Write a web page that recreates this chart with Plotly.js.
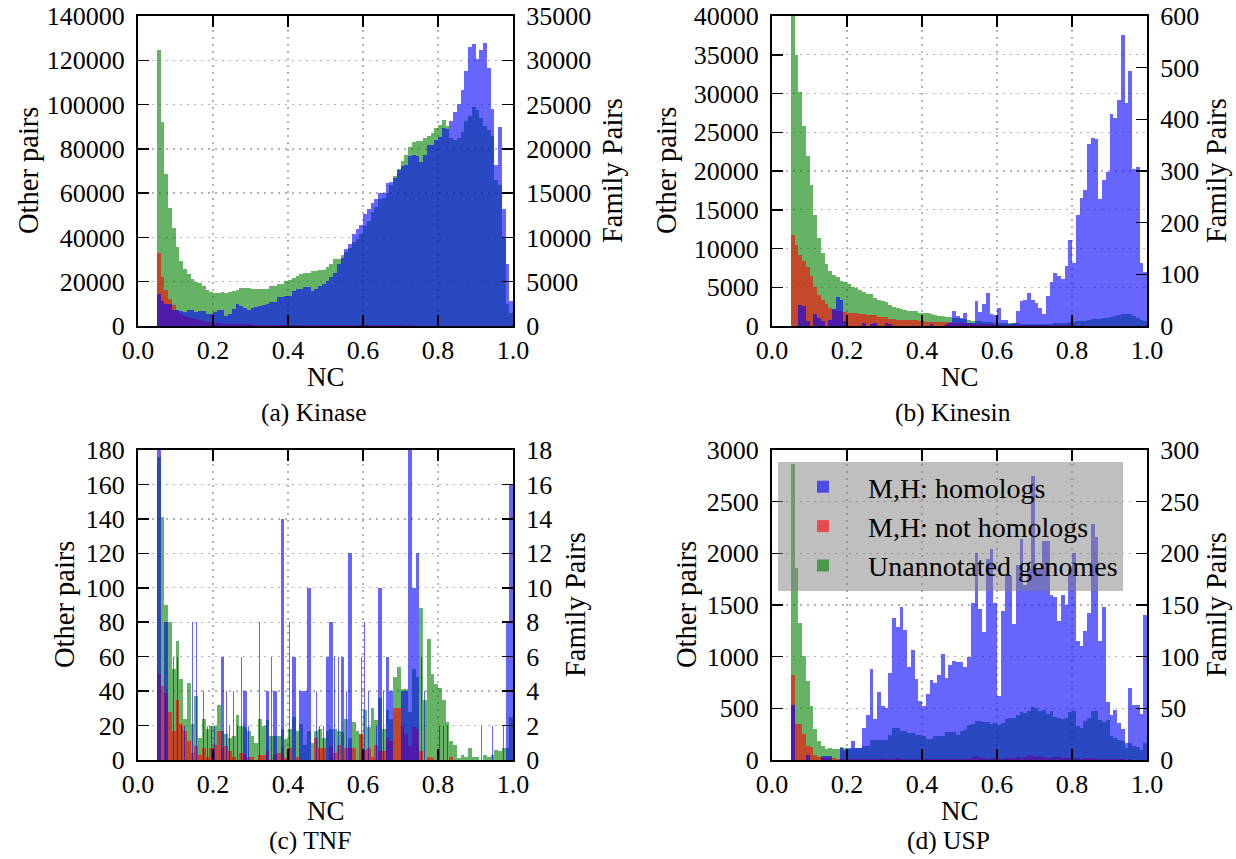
<!DOCTYPE html>
<html>
<head>
<meta charset="utf-8">
<script src="https://cdn.plot.ly/plotly-3.0.1.min.js"></script>
<style>
  html, body { margin: 0; padding: 0; background: #ffffff; }
  #chart { width: 1236px; height: 859px; }
</style>
</head>
<body>
<div id="chart"></div>
<script>
// NC histogram binning: 95 bins of width 0.01 covering 0.05 .. 1.00
const NC_FIRST_BIN_CENTER = 0.055;
const NC_BIN_WIDTH = 0.01;

// ---------- (a) Kinase ----------
const kinaseUnannotated = [124650, 92250, 68550, 53400, 44400, 35850, 29400, 25650, 23400, 21450,
  19950, 19350, 17850, 16200, 15150, 14850, 14850, 15150, 14850, 15450,
  15900, 16350, 16950, 17100, 16950, 16800, 16650, 16650, 16800, 16650,
  17850, 17850, 18750, 18750, 20400, 20850, 21900, 22650, 23700, 24150,
  24150, 24900, 24900, 25200, 25350, 26700, 27900, 30150, 30450, 31950,
  33450, 35400, 37950, 39450, 41700, 45150, 47250, 51450, 53700, 57150,
  57750, 60150, 63900, 67650, 70950, 74700, 77400, 80850, 83250, 83700,
  83700, 84900, 85950, 87150, 89400, 90900, 93150, 90150, 84900, 84150,
  84900, 87450, 92700, 94950, 98850, 97650, 93900, 90150, 88650, 85650,
  65850, 63600, 39900, 9900, 5850];
const kinaseNotHomologs = [33000, 22200, 16200, 12000, 9300, 7000, 5600, 4700, 4000, 3400,
  3200, 2500, 2200, 1900, 1600, 1400, 1350, 1100, 950, 900,
  820, 780, 760, 690, 700, 640, 620, 610, 560, 580,
  540, 530, 490, 500, 470, 450, 460, 430, 420, 435,
  400, 410, 380, 370, 385, 350, 360, 330, 345, 310,
  320, 300, 290, 305, 280, 290, 270, 285, 260, 270,
  250, 265, 240, 250, 230, 245, 220, 230, 215, 220,
  200, 210, 190, 205, 180, 190, 175, 180, 160, 170,
  150, 165, 140, 150, 130, 145, 120, 125, 110, 115,
  100, 90, 70, 40, 20];
const kinaseHomologs = [3580, 2810, 2540, 2540, 1800, 1770, 1650, 1620, 1770, 1770,
  1540, 1730, 1730, 1390, 1310, 1540, 1770, 1850, 1160, 1400,
  1960, 2430, 2230, 2040, 1850, 2000, 2160, 2310, 2400, 2440,
  2660, 2740, 3225, 3300, 3410, 3410, 3900, 4160, 4200, 4425,
  4460, 3975, 4160, 4540, 4725, 5100, 5550, 6040, 6975, 7725,
  8740, 9225, 10350, 10900, 11400, 12700, 13240, 13900, 14360, 15040,
  15040, 16090, 16300, 16725, 17660, 18040, 18225, 19160, 19300, 19160,
  18490, 19350, 20475, 20475, 21040, 21340, 22310, 22240, 23175, 24190,
  25050, 26660, 28800, 31540, 31840, 30110, 31160, 31910, 29100, 24525,
  18225, 22460, 13240, 6975, 2775];

// ---------- (b) Kinesin ----------
const kinesinUnannotated = [40500, 35010, 30170, 25770, 21960, 18230, 14340, 11340, 9420, 8000,
  7150, 6630, 6330, 5780, 5650, 5480, 5050, 4920, 4620, 4410,
  4150, 4070, 3550, 3300, 3170, 3080, 2700, 2440, 2270, 2140,
  2010, 2000, 1990, 1880, 1710, 1630, 1620, 1500, 1370, 1280,
  1330, 1200, 1180, 1070, 1060, 950, 880, 760, 700, 640,
  610, 560, 520, 490, 450, 430, 410, 380, 360, 350,
  330, 320, 310, 300, 290, 280, 290, 270, 300, 320,
  340, 380, 400, 430, 480, 540, 600, 640, 690, 780,
  870, 940, 930, 1010, 1060, 1200, 1310, 1440, 1560, 1490,
  1520, 1290, 1080, 820, 600];
const kinesinNotHomologs = [11770, 10490, 9200, 8350, 7580, 6420, 5010, 3940, 3420, 2780,
  2350, 2010, 2000, 1930, 1800, 1710, 1720, 1690, 1500, 1510,
  1480, 1370, 1380, 1200, 1210, 1180, 940, 860, 740, 730,
  720, 740, 730, 720, 700, 710, 520, 510, 530, 500,
  520, 490, 500, 430, 420, 440, 410, 400, 260, 240,
  250, 220, 210, 200, 190, 185, 170, 160, 165, 150,
  140, 150, 130, 120, 130, 110, 100, 110, 100, 90,
  95, 80, 90, 70, 80, 70, 60, 70, 60, 50,
  60, 50, 40, 50, 40, 50, 40, 30, 40, 30,
  30, 20, 30, 20, 10];
const kinesinHomologs = [0, 0, 40, 38, 10, 0, 24, 15, 10, 0,
  11, 32, 56, 51, 10, 0, 0, 0, 0, 6,
  0, 3, 6, 0, 0, 6, 3, 0, 0, 0,
  0, 0, 0, 0, 0, 0, 0, 3, 0, 0,
  0, 3, 6, 29, 20, 16, 26, 6, 6, 48,
  28, 42, 64, 24, 22, 35, 11, 11, 3, 6,
  30, 48, 51, 63, 51, 44, 35, 24, 58, 86,
  103, 96, 91, 116, 167, 121, 215, 247, 263, 352,
  363, 361, 246, 282, 298, 411, 403, 437, 564, 432,
  494, 303, 307, 121, 105];

// ---------- (c) TNF ----------
const tnfUnannotated = [176, 141, 90, 80, 53, 69, 47, 24, 45, 21,
  37, 13, 24, 18, 20, 20, 32, 17, 15, 13,
  14, 26, 20, 19, 17, 14, 10, 24, 20, 23,
  14, 14, 14, 18, 12, 18, 25, 17, 21, 9,
  17, 10, 17, 18, 13, 17, 18, 18, 17, 16,
  24, 13, 22, 17, 15, 29, 19, 30, 23, 36,
  18, 29, 24, 48, 54, 41, 41, 28, 53, 48,
  88, 35, 70, 50, 44, 42, 35, 22, 11, 9,
  1, 3, 2, 7, 2, 2, 0, 3, 2, 3,
  6, 5, 7, 7, 25];
const tnfNotHomologs = [50, 43, 39, 28, 17, 35, 21, 17, 11, 4,
  8, 3, 7, 2, 7, 9, 17, 7, 8, 5,
  2, 0, 4, 3, 2, 2, 0, 3, 3, 5,
  0, 3, 4, 8, 1, 7, 0, 2, 0, 0,
  0, 0, 13, 7, 7, 0, 8, 4, 9, 0,
  7, 7, 7, 0, 15, 6, 7, 2, 9, 5,
  5, 13, 11, 30, 30, 20, 15, 8, 19, 18,
  5, 0, 2, 1, 0, 0, 0, 0, 2, 0,
  0, 0, 0, 0, 0, 0, 0, 0, 0, 0,
  0, 0, 0, 0, 0];
// homolog counts drawn as full-width bars
const tnfHomologsWide = [18, 0, 8, 0, 0, 0, 0, 0, 0, 0,
  0, 0, 0, 0, 0, 0, 0, 6, 0, 0,
  0, 0, 0, 4, 0, 0, 0, 0, 0, 4,
  0, 4, 0, 14, 0, 0, 6, 0, 4, 4,
  10, 0, 0, 0, 0, 6, 8, 0, 0, 6,
  0, 12, 0, 0, 0, 0, 0, 0, 0, 10,
  0, 6, 4, 0, 0, 4, 4, 18, 10, 12,
  0, 0, 0, 0, 0, 0, 0, 0, 0, 0,
  0, 0, 0, 0, 0, 0, 0, 0, 0, 0,
  0, 0, 0, 8, 16];
// homolog counts that appear as hairline spikes
const tnfHomologsThin = [0, 0, 0, 0, 6, 6, 2, 2, 0, 8,
  8, 0, 4, 2, 2, 2, 0, 0, 4, 2,
  4, 2, 6, 0, 2, 0, 0, 8, 0, 0,
  6, 0, 0, 0, 0, 8, 0, 0, 0, 0,
  0, 0, 4, 2, 2, 0, 0, 6, 6, 0,
  4, 0, 0, 0, 6, 8, 4, 0, 2, 0,
  4, 0, 0, 0, 0, 0, 0, 0, 0, 0,
  6, 4, 0, 0, 0, 2, 2, 2, 0, 0,
  0, 0, 0, 0, 0, 0, 2, 0, 0, 2,
  0, 0, 2, 0, 0];

// ---------- (d) USP ----------
const uspUnannotated = [2860, 1855, 1323, 1011, 766, 518, 303, 180, 138, 109,
  112, 108, 110, 122, 118, 110, 114, 116, 115, 132,
  135, 193, 190, 195, 192, 190, 245, 309, 305, 283,
  285, 258, 260, 238, 240, 236, 200, 202, 232, 230,
  235, 270, 268, 272, 245, 280, 290, 335, 350, 375,
  380, 370, 365, 350, 355, 340, 360, 395, 410, 405,
  440, 460, 455, 470, 510, 505, 470, 480, 450, 470,
  420, 405, 395, 410, 460, 470, 330, 310, 380, 410,
  470, 470, 390, 370, 390, 230, 210, 190, 180, 120,
  160, 140, 130, 100, 160];
const uspNotHomologs = [818, 350, 345, 250, 132, 128, 50, 30, 25, 20,
  15, 18, 12, 10, 12, 8, 10, 8, 6, 8,
  10, 12, 8, 10, 15, 12, 10, 14, 18, 12,
  10, 8, 12, 10, 8, 10, 12, 10, 8, 10,
  12, 14, 10, 12, 8, 10, 14, 12, 30, 35,
  20, 15, 12, 18, 20, 15, 12, 18, 20, 15,
  25, 22, 30, 45, 40, 28, 35, 25, 20, 22,
  30, 25, 18, 20, 15, 22, 18, 12, 15, 20,
  18, 12, 10, 8, 12, 8, 6, 5, 6, 4,
  5, 3, 4, 2, 3];
const uspHomologs = [53, 0, 0, 0, 5, 0, 0, 0, 4, 4,
  4, 0, 0, 12, 10, 12, 18, 12, 12, 31,
  44, 88, 40, 66, 52, 50, 84, 137, 129, 148,
  126, 90, 106, 78, 57, 52, 64, 77, 75, 82,
  103, 79, 92, 96, 95, 95, 90, 100, 152, 200,
  146, 124, 195, 204, 152, 62, 144, 179, 178, 132,
  189, 214, 169, 185, 275, 185, 185, 212, 212, 160,
  158, 135, 160, 150, 185, 200, 115, 110, 125, 142,
  228, 216, 115, 148, 56, 44, 48, 36, 30, 16,
  70, 53, 53, 45, 140];

// ---------- labels ----------
const seriesNames = ['M,H: homologs', 'M,H: not homologs', 'Unannotated genomes'];
const panelCaptions = ['(a) Kinase', '(b) Kinesin', '(c) TNF', '(d) USP'];
const xTitle = 'NC';
const leftTitle = 'Other pairs';
const rightTitle = 'Family Pairs';

// ---------- style ----------
const FONT = '"Liberation Serif", "Times New Roman", serif';
const BLUE = 'rgba(0,0,255,0.6)';
const RED = 'rgba(255,0,0,0.6)';
const GREEN = 'rgba(0,128,0,0.6)';

function bars(values, color, xa, ya, name, extra) {
  return Object.assign({
    type: 'bar', name: name, y: values,
    x0: NC_FIRST_BIN_CENTER, dx: NC_BIN_WIDTH, width: NC_BIN_WIDTH,
    xaxis: xa, yaxis: ya,
    marker: { color: color, line: { width: 0 } },
    showlegend: false,
    hovertemplate: name + '<br>NC %{x:.3f}: %{y}<extra></extra>'
  }, extra || {});
}

const traces = [
  // (a)
  bars(kinaseUnannotated, GREEN, 'x', 'y', seriesNames[2]),
  bars(kinaseNotHomologs, RED, 'x', 'y', seriesNames[1]),
  bars(kinaseHomologs, BLUE, 'x', 'y2', seriesNames[0]),
  // (b)
  bars(kinesinUnannotated, GREEN, 'x2', 'y3', seriesNames[2]),
  bars(kinesinNotHomologs, RED, 'x2', 'y3', seriesNames[1]),
  bars(kinesinHomologs, BLUE, 'x2', 'y4', seriesNames[0]),
  // (c)
  bars(tnfUnannotated, GREEN, 'x3', 'y5', seriesNames[2]),
  bars(tnfNotHomologs, RED, 'x3', 'y5', seriesNames[1]),
  bars(tnfHomologsWide, BLUE, 'x3', 'y6', seriesNames[0]),
  bars(tnfHomologsThin, BLUE, 'x3', 'y6', seriesNames[0], { width: 0.0028 }),
  // (d) – carries the legend
  bars(uspUnannotated, GREEN, 'x4', 'y7', seriesNames[2], { showlegend: true }),
  bars(uspNotHomologs, RED, 'x4', 'y7', seriesNames[1], { showlegend: true }),
  bars(uspHomologs, BLUE, 'x4', 'y8', seriesNames[0], { showlegend: true })
];

const tickFont = { family: FONT, size: 26, color: '#000' };

function xAxis(domain, anchor) {
  return {
    domain: domain, anchor: anchor, range: [0, 1], tick0: 0, dtick: 0.2, tickformat: '.1f',
    ticks: 'inside', ticklen: 11, tickwidth: 1.5, tickcolor: '#000',
    showline: true, linewidth: 2, linecolor: '#000', mirror: 'ticks',
    showgrid: true, gridcolor: '#b3b3b3', griddash: '2px,5px', gridwidth: 1.3,
    zeroline: false, ticklabelstandoff: 0, tickfont: tickFont,
    automargin: false, fixedrange: true
  };
}
function yLeft(domain, anchor, max, step) {
  return {
    domain: domain, anchor: anchor, range: [0, max], tick0: 0, dtick: step, tickformat: 'd',
    ticks: 'inside', ticklen: 11, tickwidth: 1.5, tickcolor: '#000',
    showline: true, linewidth: 2, linecolor: '#000', mirror: false,
    showgrid: true, gridcolor: '#b3b3b3', griddash: '2px,5px', gridwidth: 1.3,
    zeroline: false, ticklabelstandoff: 6, tickfont: tickFont,
    automargin: false, fixedrange: true
  };
}
function yRight(anchor, overlaying, max, step) {
  return {
    anchor: anchor, overlaying: overlaying, side: 'right', range: [0, max], tick0: 0, dtick: step,
    tickformat: 'd', ticks: 'inside', ticklen: 11, tickwidth: 1.5, tickcolor: '#000',
    showline: true, linewidth: 2, linecolor: '#000',
    showgrid: false, zeroline: false, ticklabelstandoff: 6, tickfont: tickFont,
    automargin: false, fixedrange: true
  };
}

const W = 1236, H = 859;
const X_LEFT = [138 / W, 513 / W];
const X_RIGHT = [772 / W, 1147 / W];
const Y_TOP = [1 - 326 / H, 1 - 16 / H];
const Y_BOTTOM = [1 - 760 / H, 1 - 450 / H];

function label(text, px, py, size, angle) {
  return { text: text, x: px / W, y: 1 - py / H, xref: 'paper', yref: 'paper', showarrow: false,
    xanchor: 'center', yanchor: 'middle', textangle: angle || 0,
    font: { family: FONT, size: size, color: '#000' } };
}

const annotations = [
  // axis titles
  label(xTitle, 325.5, 377, 27), label(xTitle, 959.5, 377, 27),
  label(xTitle, 325.5, 811, 27), label(xTitle, 959.5, 811, 27),
  label(leftTitle, 28, 171, 28.5, -90), label(rightTitle, 612, 171, 28.5, -90),
  label(leftTitle, 666, 171, 28.5, -90), label(rightTitle, 1216, 171, 28.5, -90),
  label(leftTitle, 64, 605, 28.5, -90), label(rightTitle, 575, 605, 28.5, -90),
  label(leftTitle, 686, 605, 28.5, -90), label(rightTitle, 1216, 605, 28.5, -90),
  // sub-figure captions
  label(panelCaptions[0], 314, 412, 25.5), label(panelCaptions[1], 953, 412, 25.5),
  label(panelCaptions[2], 310, 840, 25.5), label(panelCaptions[3], 948, 840, 25.5)
];

const layout = {
  width: W, height: H,
  margin: { l: 0, r: 0, t: 0, b: 0, pad: 0 },
  paper_bgcolor: '#ffffff', plot_bgcolor: '#ffffff',
  barmode: 'overlay', bargap: 0,
  font: { family: FONT, size: 26, color: '#000' },
  showlegend: true,
  legend: {
    x: 778 / W, y: 1 - 462 / H, xanchor: 'left', yanchor: 'top',
    bgcolor: 'rgba(128,128,128,0.5)', borderwidth: 0,
    font: { family: FONT, size: 28, color: '#000' },
    traceorder: 'reversed', itemwidth: 80, tracegroupgap: 0
  },
  xaxis: xAxis(X_LEFT, 'y'),
  yaxis: yLeft(Y_TOP, 'x', 140000, 20000),
  yaxis2: yRight('x', 'y', 35000, 5000),
  xaxis2: xAxis(X_RIGHT, 'y3'),
  yaxis3: yLeft(Y_TOP, 'x2', 40000, 5000),
  yaxis4: yRight('x2', 'y3', 600, 100),
  xaxis3: xAxis(X_LEFT, 'y5'),
  yaxis5: yLeft(Y_BOTTOM, 'x3', 180, 20),
  yaxis6: yRight('x3', 'y5', 18, 2),
  xaxis4: xAxis(X_RIGHT, 'y7'),
  yaxis7: yLeft(Y_BOTTOM, 'x4', 3000, 500),
  yaxis8: yRight('x4', 'y7', 300, 50),
  annotations: annotations
};

Plotly.newPlot('chart', traces, layout, { displayModeBar: false, staticPlot: true });
</script>
</body>
</html>
